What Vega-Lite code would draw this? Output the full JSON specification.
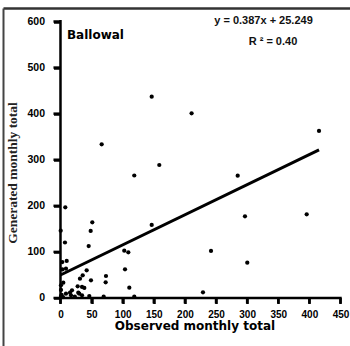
{
  "$schema": "https://vega.github.io/schema/vega-lite/v6.json",
  "width": 347,
  "height": 338,
  "autosize": "none",
  "padding": {"left": 3, "top": 8, "right": 0, "bottom": 0},
  "background": "white",
  "config": {"view": {"stroke": null}, "axis": {"grid": false}},
  "datasets": {
    "points": [
      {"x": 146.6, "y": 436.8}, {"x": 210.7, "y": 400.8}, {"x": 66.2, "y": 333.6},
      {"x": 158.8, "y": 288.6}, {"x": 118.6, "y": 265.8}, {"x": 284.8, "y": 265.4},
      {"x": 415.5, "y": 362.4}, {"x": 296.5, "y": 177.3}, {"x": 395.7, "y": 181.6},
      {"x": 146.6, "y": 158.4}, {"x": 241.9, "y": 102}, {"x": 300.2, "y": 76.6},
      {"x": 229, "y": 12.4}, {"x": 7.7, "y": 196.8}, {"x": 51.1, "y": 164.3},
      {"x": 48.5, "y": 145.4}, {"x": 0.3, "y": 146}, {"x": 7.2, "y": 120.4},
      {"x": 45.3, "y": 112.8}, {"x": 102.5, "y": 102.6}, {"x": 109, "y": 99.2},
      {"x": 10, "y": 80.3}, {"x": 2.9, "y": 78}, {"x": 8.8, "y": 63.6},
      {"x": 3, "y": 62}, {"x": 103.7, "y": 62.3}, {"x": 42.1, "y": 60.1},
      {"x": 73.1, "y": 47.7}, {"x": 35.7, "y": 49.3}, {"x": 31.3, "y": 41.9},
      {"x": 49, "y": 38.4}, {"x": 72.6, "y": 34.1}, {"x": 4.5, "y": 33.2},
      {"x": 110.6, "y": 22.4}, {"x": 27.6, "y": 25.4}, {"x": 34.6, "y": 23.9},
      {"x": 38.3, "y": 21.7}, {"x": 18.5, "y": 16.7}, {"x": 0.8, "y": 27.6},
      {"x": 0.8, "y": 17.4}, {"x": 8.8, "y": 9.3}, {"x": 16.9, "y": 5.9},
      {"x": 30.2, "y": 9.3}, {"x": 34.6, "y": 5.9}, {"x": 46.3, "y": 4.3},
      {"x": 69.4, "y": 2.8}, {"x": 118.6, "y": 2.8}, {"x": 0.8, "y": 4.3},
      {"x": 4, "y": 2}, {"x": 23, "y": 3}, {"x": 15.3, "y": 11.5},
      {"x": 28.6, "y": 11.5}, {"x": 1.9, "y": 6.5}
    ],
    "fit": [{"x": 0, "y": 49.9}, {"x": 415.5, "y": 321.2}],
    "xticks": [{"v": 0}, {"v": 50}, {"v": 100}, {"v": 150}, {"v": 200}, {"v": 250}, {"v": 300}, {"v": 350}, {"v": 400}, {"v": 450}],
    "yticks": [{"v": 0}, {"v": 100}, {"v": 200}, {"v": 300}, {"v": 400}, {"v": 500}, {"v": 600}]
  },
  "layer": [
    {
      "data": {"name": "points"},
      "mark": {"type": "circle", "size": 18, "color": "black", "opacity": 1},
      "encoding": {
        "x": {"field": "x", "type": "quantitative",
          "scale": {"domain": [-92.4, 465.3], "nice": false, "zero": false},
          "axis": {"orient": "bottom", "offset": -48, "values": [0, 50, 100, 150, 200, 250, 300, 350, 400, 450],
            "domain": false, "ticks": true, "tickColor": "black", "tickWidth": 2.5, "tickSize": 5.5,
            "labelFont": "Liberation Sans", "labelFontWeight": "bold", "labelFontSize": 10, "labelColor": "black",
            "labelPadding": 5.5, "labelFlush": false, "labelOverlap": false,
            "title": "Observed monthly total", "titleFont": "DejaVu Sans", "titleFontSize": 12, "titleFontWeight": "bold",
            "titleColor": "black", "titleX": 191.5, "titleY": 31.5, "titleBaseline": "alphabetic", "titleAlign": "center"}},
        "y": {"field": "y", "type": "quantitative",
          "scale": {"domain": [-104.2, 629.3], "nice": false, "zero": false},
          "axis": {"orient": "left", "offset": -57.5, "values": [0, 100, 200, 300, 400, 500, 600],
            "domain": false, "ticks": true, "tickColor": "black", "tickWidth": 2.5, "tickSize": 7,
            "labelFont": "Liberation Sans", "labelFontWeight": "bold", "labelFontSize": 10.5, "labelColor": "black",
            "labelPadding": 9, "labelFlush": false, "labelOverlap": false,
            "title": "Generated monthly total", "titleFont": "Liberation Serif", "titleFontSize": 13.5, "titleFontWeight": "bold",
            "titleColor": "#222", "titleAngle": -90, "titleX": -44.1, "titleY": 164.5, "titleBaseline": "alphabetic", "titleAlign": "center"}}
      }
    },
    {
      "data": {"name": "fit"},
      "mark": {"type": "line", "color": "black", "strokeWidth": 3},
      "encoding": {
        "x": {"field": "x", "type": "quantitative",
          "scale": {"domain": [-92.4, 465.3], "nice": false, "zero": false},
          "axis": {"orient": "top", "domain": true, "domainColor": "#333", "domainWidth": 2.5, "ticks": false, "labels": false, "title": null, "grid": false}},
        "y": {"field": "y", "type": "quantitative",
          "scale": {"domain": [-104.2, 629.3], "nice": false, "zero": false},
          "axis": {"orient": "left", "domain": true, "domainColor": "#444", "domainWidth": 2, "ticks": false, "labels": false, "title": null, "grid": false}}
      }
    },
    {
      "data": {"name": "xticks"},
      "mark": {"type": "rule", "color": "black", "strokeWidth": 2.5},
      "encoding": {
        "x": {"field": "v", "type": "quantitative", "scale": {"domain": [-92.4, 465.3], "nice": false, "zero": false}, "axis": null},
        "y": {"datum": 0, "type": "quantitative", "scale": {"domain": [-104.2, 629.3], "nice": false, "zero": false}, "axis": null},
        "y2": {"datum": -12}
      }
    },
    {
      "data": {"name": "yticks"},
      "mark": {"type": "rule", "color": "black", "strokeWidth": 2.5},
      "encoding": {
        "x": {"datum": 0, "type": "quantitative", "scale": {"domain": [-92.4, 465.3], "nice": false, "zero": false}, "axis": null},
        "x2": {"datum": -11.3},
        "y": {"field": "v", "type": "quantitative", "scale": {"domain": [-104.2, 629.3], "nice": false, "zero": false}, "axis": null}
      }
    },
    {
      "data": {"values": [{}]},
      "mark": {"type": "rule", "color": "black", "strokeWidth": 2.5},
      "encoding": {
        "x": {"datum": 0, "type": "quantitative", "scale": {"domain": [-92.4, 465.3], "nice": false, "zero": false}, "axis": null},
        "x2": {"datum": 452},
        "y": {"datum": 0, "type": "quantitative", "scale": {"domain": [-104.2, 629.3], "nice": false, "zero": false}, "axis": null}
      }
    },
    {
      "data": {"values": [{}]},
      "mark": {"type": "rule", "color": "black", "strokeWidth": 2.5},
      "encoding": {
        "x": {"datum": 0, "type": "quantitative", "scale": {"domain": [-92.4, 465.3], "nice": false, "zero": false}, "axis": null},
        "y": {"datum": -1, "type": "quantitative", "scale": {"domain": [-104.2, 629.3], "nice": false, "zero": false}, "axis": null},
        "y2": {"datum": 603}
      }
    },
    {
      "data": {"values": [{"t": "Ballowal"}]},
      "mark": {"type": "text", "align": "left", "baseline": "middle", "font": "DejaVu Sans", "fontWeight": "bold", "fontSize": 12, "color": "black"},
      "encoding": {
        "x": {"datum": 10.4, "type": "quantitative", "scale": {"domain": [-92.4, 465.3], "nice": false, "zero": false}, "axis": null},
        "y": {"datum": 570.7, "type": "quantitative", "scale": {"domain": [-104.2, 629.3], "nice": false, "zero": false}, "axis": null},
        "text": {"field": "t"}
      }
    },
    {
      "data": {"values": [{"t": "y = 0.387x + 25.249"}]},
      "mark": {"type": "text", "align": "center", "baseline": "middle", "font": "Liberation Sans", "fontWeight": "bold", "fontSize": 11, "color": "#111"},
      "encoding": {
        "x": {"datum": 326.3, "type": "quantitative", "scale": {"domain": [-92.4, 465.3], "nice": false, "zero": false}, "axis": null},
        "y": {"datum": 601.1, "type": "quantitative", "scale": {"domain": [-104.2, 629.3], "nice": false, "zero": false}, "axis": null},
        "text": {"field": "t"}
      }
    },
    {
      "data": {"values": [{"t": "R ²  = 0.40"}]},
      "mark": {"type": "text", "align": "center", "baseline": "middle", "font": "Liberation Sans", "fontWeight": "bold", "fontSize": 11, "color": "#111"},
      "encoding": {
        "x": {"datum": 341.5, "type": "quantitative", "scale": {"domain": [-92.4, 465.3], "nice": false, "zero": false}, "axis": null},
        "y": {"datum": 556.2, "type": "quantitative", "scale": {"domain": [-104.2, 629.3], "nice": false, "zero": false}, "axis": null},
        "text": {"field": "t"}
      }
    }
  ],
  "resolve": {"axis": {"x": "independent", "y": "independent"}}
}
